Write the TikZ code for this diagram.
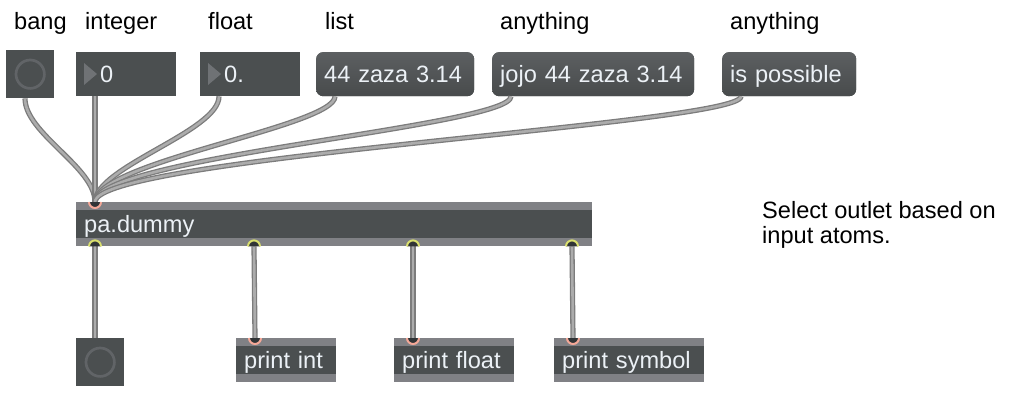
\documentclass[tikz,border=0pt]{standalone}
\usepackage{fontspec}
\setmainfont{Liberation Sans}
\usetikzlibrary{calc}

\begin{document}
\begin{tikzpicture}[x=1pt,y=1pt,yscale=-1,
  every node/.style={font=\fontsize{23.6}{25}\selectfont},
  lbl/.style={anchor=base west,inner sep=0pt,text=black},
  box/.style={anchor=north west,inner sep=0pt,fill={rgb, 255:red, 75; green, 79; blue, 80 }},
  obj/.style={box,inner xsep=8pt,minimum height=44pt,text height=18pt,text depth=2pt,align=left,
    text={rgb, 255:red, 236; green, 241; blue, 246 }},
  msg/.style={obj,rounded corners=7pt,top color={rgb, 255:red, 92; green, 95; blue, 97 },
    bottom color={rgb, 255:red, 72; green, 75; blue, 76 }},
  strip/.style={fill={rgb, 255:red, 128; green, 129; blue, 133 }},
  ring/.style={draw={rgb, 255:red, 97; green, 100; blue, 103 },line width=2.7pt},
  tri/.style={fill={rgb, 255:red, 111; green, 114; blue, 117 }},
  cord/.style={draw={rgb, 255:red, 124; green, 124; blue, 124 },double={rgb, 255:red, 172; green, 172; blue, 172 },
    double distance=2.6pt,line width=1.3pt},
  inlet/.style={draw={rgb, 255:red, 244; green, 168; blue, 152 },fill={rgb, 255:red, 48; green, 52; blue, 54 },line width=2pt},
  outlet/.style={draw={rgb, 255:red, 218; green, 224; blue, 110 },fill={rgb, 255:red, 48; green, 52; blue, 54 },line width=2pt}
  ]
  \useasboundingbox (0,0) rectangle (1012,404);

  %Labels
  \node[lbl] (lbang) at (14,30) {bang};
  \node[lbl] (lint) at (85,30) {integer};
  \node[lbl] (lflt) at (208,30) {float};
  \node[lbl] (llst) at (325,30) {list};
  \node[lbl] (lany) at (500,30) {anything};
  \node[lbl] (lany2) at (730,30) {anything};
  \node[lbl,anchor=north west,align=left] (note) at (762,201) {Select outlet based on\\input atoms.};

  %Top objects
  \node[box,minimum width=48pt,minimum height=48pt] (bang) at (6,50) {};
  \draw[ring] (bang.center) circle[radius=14.2];
  \node[obj,text width=84pt] (int) at (76,52) {\hspace*{16pt}0};
  \fill[tri] ($(int.north west)+(8,11)$) -- ++(0,22) -- ++(13,-11) -- cycle;
  \node[obj,text width=84pt] (flt) at (200,52) {\hspace*{16pt}0.};
  \fill[tri] ($(flt.north west)+(8,11)$) -- ++(0,22) -- ++(13,-11) -- cycle;
  \node[msg,text width=142pt] (lst) at (316,52) {44 zaza 3.14};
  \node[msg,text width=186pt] (jojo) at (492,52) {jojo 44 zaza 3.14};
  \node[msg,text width=118pt] (poss) at (722,52) {is possible};

  %pa.dummy
  \node[obj,text width=500pt] (pd) at (76,202) {pa.dummy};

  %Bottom objects
  \node[box,minimum width=48pt,minimum height=48pt] (bang2) at (76,338) {};
  \draw[ring] (bang2.center) circle[radius=14.2];
  \node[obj,text width=84pt] (prInt) at (236,338) {print int};
  \node[obj,text width=104pt] (prFlt) at (394,338) {print float};
  \node[obj,text width=134pt] (prSym) at (554,338) {print symbol};

  \foreach \o in {pd,prInt,prFlt,prSym} {
    \fill[strip] (\o.north west) rectangle ($(\o.north east)+(0,8)$);
    \fill[strip] ($(\o.south west)+(0,-8)$) rectangle (\o.south east);
  }

  %Inlets and outlets
  \foreach \o in {bang,int,flt,lst,jojo,poss}
    \coordinate (\o-out) at ($(\o.south west)+(19,0)$);
  \coordinate (pd-in) at ($(pd.north west)+(19,0)$);
  \foreach \i/\dx in {0/19,1/178,2/337,3/496}
    \coordinate (pd-out\i) at ($(pd.south west)+(\dx,0)$);
  \foreach \o in {bang2,prInt,prFlt,prSym}
    \coordinate (\o-in) at ($(\o.north west)+(19,0)$);

  %Cords
  \draw[cord] (bang-out) .. controls +(0,35) and +(0,-35) .. (pd-in);
  \draw[cord] (int-out) -- (pd-in);
  \draw[cord] (flt-out) .. controls +(0,35) and +(0,-35) .. (pd-in);
  \draw[cord] (lst-out) .. controls +(0,30) and +(0,-40) .. (pd-in);
  \draw[cord] (jojo-out) .. controls +(0,30) and +(0,-45) .. (pd-in);
  \draw[cord] (poss-out) .. controls +(0,28) and +(0,-45) .. (pd-in);
  \draw[cord] (pd-out0) -- (bang2-in);
  \draw[cord] (pd-out1) -- (prInt-in);
  \draw[cord] (pd-out2) -- (prFlt-in);
  \draw[cord] (pd-out3) -- (prSym-in);

  \draw[inlet] ($(pd-in)+(-6,0)$) arc[start angle=180,end angle=0,radius=6];
  \foreach \i in {0,1,2,3}
    \draw[outlet] ($(pd-out\i)+(-6,0)$) arc[start angle=180,end angle=360,radius=6];
  \foreach \o in {prInt,prFlt,prSym}
    \draw[inlet] ($(\o-in)+(-6,0)$) arc[start angle=180,end angle=0,radius=6];

\end{tikzpicture}
\end{document}
